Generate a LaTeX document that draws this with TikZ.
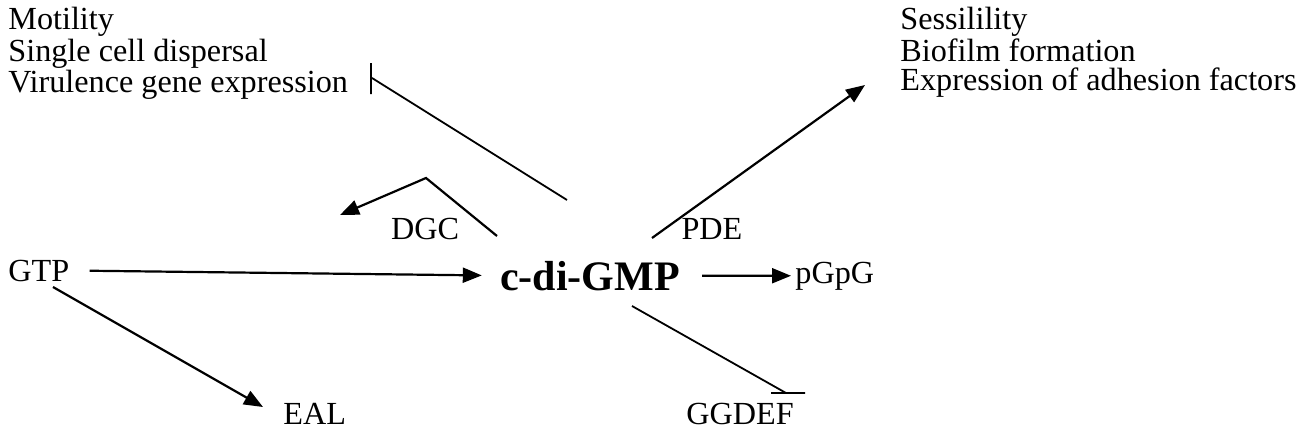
\documentclass[tikz,border=0pt]{standalone}
\usepackage{fontspec}
\setmainfont{Liberation Serif}
\usetikzlibrary{arrows.meta}

\begin{document}
\begin{tikzpicture}[x=0.5pt,y=-0.5pt,
  every node/.style={inner sep=0pt,font=\fontsize{16.1}{14.6}\selectfont},
  act/.style={line width=1.1pt,-{Triangle[length=9.5pt,width=7.5pt]}},
  inh/.style={line width=0.9pt}]
\useasboundingbox (0,0) rectangle (1310,439);
\node[anchor=north west,align=left] (mot) at (8,7) {Motility\\Single cell dispersal\\Virulence gene expression};
\node[anchor=north west,align=left] (ses) at (900,7) {Sessilility\\Biofilm formation\\Expression of adhesion factors};
\node[anchor=base,font=\fontsize{21}{24}\selectfont\bfseries] (gmp) at (590,290) {c-di-GMP};
\node[anchor=base west] (gtp) at (8,281) {GTP};
\node[anchor=base west] (pgpg) at (795,283) {pGpG};
\node[anchor=base] (dgc) at (425,239) {DGC};
\node[anchor=base] (pde) at (712,239) {PDE};
\node[anchor=base west] (eal) at (283,424) {EAL};
\node[anchor=base] (ggdef) at (740,424) {GGDEF};
% free ends
\coordinate (b1) at (371,63);
\coordinate (b2) at (371,94);
\coordinate (i1) at (372,78);
\coordinate (i2) at (567,200);
\coordinate (f0) at (497,236);
\coordinate (f1) at (426,178);
\coordinate (f2) at (340,215);
\coordinate (s0) at (652,238);
\coordinate (s1) at (865,85);
\coordinate (e0) at (53,287);
\coordinate (e1) at (263,407);
\coordinate (g0) at (632,306);
\coordinate (g1) at (786,393);
\coordinate (g2) at (771,393);
\coordinate (g3) at (805,393);
% activation
\draw[act,shorten <=10pt,shorten >=9pt] (gtp.east) -- (gmp.west);
\draw[act,shorten <=11pt,shorten >=2pt] (gmp.east) -- (pgpg.west);
\foreach \a/\b in {s0/s1,e0/e1} \draw[act] (\a) -- (\b);
\draw[act] (f0) -- (f1) -- (f2);
% inhibition
\draw[inh] (i2) -- (i1) (b1) -- (b2);
\draw[inh] (g0) -- (g1) (g2) -- (g3);
\end{tikzpicture}
\end{document}
